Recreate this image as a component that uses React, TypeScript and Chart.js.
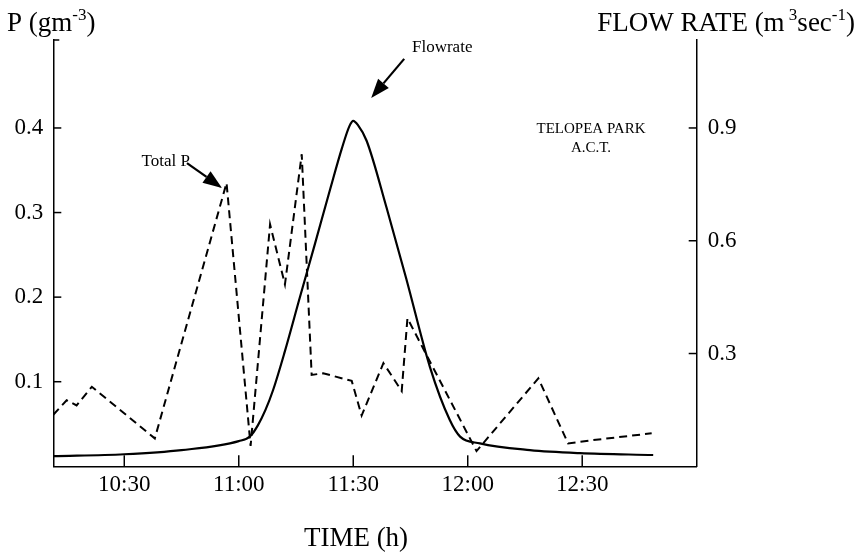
import React, { useEffect, useRef } from "react";
import { Chart, registerables } from "chart.js";

Chart.register(...registerables);

// Time in minutes after midnight
const flowTime = [611.4, 630, 645, 660, 663, 665, 667, 669, 672, 676, 680, 684, 687, 689, 690, 691.2, 693.5, 698.7, 704.0, 710.1, 715.3, 718.0, 723.2, 736.3, 749.4, 768.6];
const flowRate = [0.027, 0.032, 0.043, 0.067, 0.08, 0.109, 0.15, 0.203, 0.303, 0.449, 0.593, 0.739, 0.845, 0.905, 0.919, 0.908, 0.866, 0.689, 0.495, 0.264, 0.123, 0.079, 0.061, 0.043, 0.035, 0.03];

const pTime = [611.4, 614.9, 617.5, 621.5, 638.0, 656.8, 663.1, 668.2, 672.1, 676.5, 679.1, 682.1, 689.6, 692.2, 697.9, 702.7, 704.2, 722.3, 738.5, 746.3, 752.9, 762.5, 768.2];
const totalP = [0.061, 0.078, 0.072, 0.094, 0.033, 0.335, 0.024, 0.286, 0.215, 0.369, 0.108, 0.11, 0.101, 0.06, 0.122, 0.089, 0.175, 0.018, 0.104, 0.027, 0.031, 0.036, 0.039];

const xTicks = [630, 660, 690, 720, 750];
const leftTicks = [0.1, 0.2, 0.3, 0.4];
const rightTicks = [0.3, 0.6, 0.9];

const X_MIN = 611.4;
const X_MAX = 780;
const P_MAX = 0.504;
const F_MAX = 1.134;

const SERIF = "'Liberation Serif', 'Times New Roman', serif";

function fmtTime(v: number) {
  const h = Math.floor(v / 60);
  const m = Math.round(v - h * 60);
  return `${h}:${m < 10 ? "0" + m : m}`;
}

type Seg = { t: string; sup?: boolean };

function drawRich(ctx: CanvasRenderingContext2D, segs: Seg[], x: number, y: number, size: number, align: "left" | "right") {
  const supSize = Math.round(size * 0.62);
  const widths = segs.map((s) => {
    ctx.font = `${s.sup ? supSize : size}px ${SERIF}`;
    return ctx.measureText(s.t).width;
  });
  const total = widths.reduce((a, b) => a + b, 0);
  let cx = align === "left" ? x : x - total;
  ctx.textAlign = "left";
  ctx.textBaseline = "alphabetic";
  segs.forEach((s, i) => {
    ctx.font = `${s.sup ? supSize : size}px ${SERIF}`;
    ctx.fillText(s.t, cx, s.sup ? y - size * 0.42 : y);
    cx += widths[i];
  });
}

function arrow(ctx: CanvasRenderingContext2D, x1: number, y1: number, x2: number, y2: number) {
  const ang = Math.atan2(y2 - y1, x2 - x1);
  const hl = 19;
  const hw = 7;
  const bx = x2 - hl * Math.cos(ang);
  const by = y2 - hl * Math.sin(ang);
  ctx.beginPath();
  ctx.moveTo(x1, y1);
  ctx.lineTo(bx, by);
  ctx.lineWidth = 2.2;
  ctx.stroke();
  ctx.beginPath();
  ctx.moveTo(x2, y2);
  ctx.lineTo(bx + hw * Math.sin(ang), by - hw * Math.cos(ang));
  ctx.lineTo(bx - hw * Math.sin(ang), by + hw * Math.cos(ang));
  ctx.closePath();
  ctx.fill();
}

const deco = {
  id: "deco",
  afterDraw(chart: any) {
    const ctx: CanvasRenderingContext2D = chart.ctx;
    const { left, right, top, bottom } = chart.chartArea;
    const xs = chart.scales.x;
    const yl = chart.scales.y;
    const yr = chart.scales.y1;
    ctx.save();
    ctx.strokeStyle = "#000";
    ctx.fillStyle = "#000";
    ctx.lineWidth = 1.5;
    const line = (a: number, b: number, c: number, d: number) => {
      ctx.beginPath();
      ctx.moveTo(a, b);
      ctx.lineTo(c, d);
      ctx.stroke();
    };
    xTicks.forEach((v) => {
      const px = xs.getPixelForValue(v);
      line(px, bottom, px, bottom - 11);
    });
    leftTicks.forEach((v) => {
      const py = yl.getPixelForValue(v);
      line(left, py, left + 8, py);
    });
    rightTicks.forEach((v) => {
      const py = yr.getPixelForValue(v);
      line(right, py, right - 8, py);
    });
    line(left, top, left + 6, top);

    // axis titles
    drawRich(ctx, [{ t: "P (gm" }, { t: "-3", sup: true }, { t: ")" }], 7, 31, 27, "left");
    drawRich(ctx, [{ t: "FLOW RATE (m" }, { t: " 3", sup: true }, { t: "sec" }, { t: "-1", sup: true }, { t: ")" }], 855, 31, 27, "right");
    ctx.font = `27px ${SERIF}`;
    ctx.textAlign = "center";
    ctx.textBaseline = "alphabetic";
    ctx.fillText("TIME (h)", 356, 546);

    // annotations
    ctx.font = `17px ${SERIF}`;
    ctx.textAlign = "left";
    ctx.fillText("Flowrate", 412, 52);
    const fTipX = xs.getPixelForValue(694.7);
    const fTipY = yr.getPixelForValue(0.98);
    arrow(ctx, fTipX + 33, fTipY - 39, fTipX, fTipY);

    ctx.textAlign = "right";
    ctx.fillText("Total P", 190, 166);
    const pTipX = xs.getPixelForValue(655.6);
    const pTipY = yl.getPixelForValue(0.329);
    arrow(ctx, pTipX - 35, pTipY - 25, pTipX, pTipY);

    ctx.textAlign = "center";
    ctx.font = `15px ${SERIF}`;
    ctx.fillText("TELOPEA PARK", 591, 133);
    ctx.fillText("A.C.T.", 591, 152);
    ctx.restore();
  },
};

export default function App() {
  const ref = useRef<HTMLCanvasElement>(null);
  useEffect(() => {
    if (!ref.current) return;
    const chart = new Chart(ref.current, {
      type: "line",
      data: {
        datasets: [
          {
            label: "Flowrate",
            data: flowTime.map((t, i) => ({ x: t, y: flowRate[i] })),
            yAxisID: "y1",
            borderColor: "#000",
            borderWidth: 2.2,
            pointRadius: 0,
            cubicInterpolationMode: "monotone",
            fill: false,
          },
          {
            label: "Total P",
            data: pTime.map((t, i) => ({ x: t, y: totalP[i] })),
            yAxisID: "y",
            borderColor: "#000",
            borderWidth: 2,
            borderDash: [8, 5],
            pointRadius: 0,
            tension: 0,
            fill: false,
          },
        ],
      },
      options: {
        animation: false,
        responsive: false,
        maintainAspectRatio: false,
        layout: { padding: { top: 40, left: 0, right: 0, bottom: 0 } },
        plugins: { legend: { display: false }, tooltip: { enabled: false }, title: { display: false } },
        scales: {
          x: {
            type: "linear",
            min: X_MIN,
            max: X_MAX,
            afterBuildTicks: (s: any) => {
              s.ticks = xTicks.map((v) => ({ value: v }));
            },
            afterFit: (s: any) => {
              s.height = 85.7;
            },
            ticks: {
              callback: (v: any) => fmtTime(Number(v)),
              color: "#000",
              font: { family: SERIF, size: 23 },
              padding: 5,
              maxRotation: 0,
              autoSkip: false,
            },
            grid: { display: true, drawOnChartArea: false, drawTicks: false },
            border: { display: true, color: "#000", width: 1.5 },
          },
          y: {
            type: "linear",
            position: "left",
            min: 0,
            max: P_MAX,
            afterBuildTicks: (s: any) => {
              s.ticks = leftTicks.map((v) => ({ value: v }));
            },
            afterFit: (s: any) => {
              s.width = 53.3;
            },
            ticks: {
              callback: (v: any) => Number(v).toFixed(1),
              color: "#000",
              font: { family: SERIF, size: 23 },
              padding: 10,
              autoSkip: false,
            },
            grid: { display: true, drawOnChartArea: false, drawTicks: false },
            border: { display: true, color: "#000", width: 1.5 },
          },
          y1: {
            type: "linear",
            position: "right",
            min: 0,
            max: F_MAX,
            afterBuildTicks: (s: any) => {
              s.ticks = rightTicks.map((v) => ({ value: v }));
            },
            afterFit: (s: any) => {
              s.width = 165.3;
            },
            ticks: {
              callback: (v: any) => Number(v).toFixed(1),
              color: "#000",
              font: { family: SERIF, size: 23 },
              padding: 11,
              autoSkip: false,
            },
            grid: { display: true, drawOnChartArea: false, drawTicks: false },
            border: { display: true, color: "#000", width: 1.5 },
          },
        },
      },
      plugins: [deco],
    });
    return () => chart.destroy();
  }, []);
  return (
    <div style={{ position: "fixed", left: 0, top: 0, width: 862, height: 552, background: "#fff" }}>
      <canvas ref={ref} width={862} height={552} style={{ display: "block" }} />
    </div>
  );
}
